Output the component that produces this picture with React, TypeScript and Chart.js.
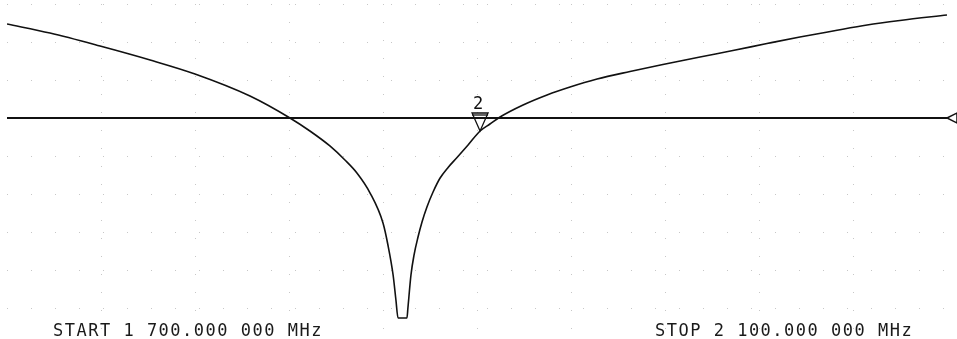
import React, { useEffect, useRef } from "react";
import { Chart, registerables } from "chart.js";

Chart.register(...registerables);

// Frequency sweep (MHz) and measured trace (dB)
const freqMHz = [
  1700.0, 1718.3, 1739.6, 1760.9, 1780.0, 1803.4, 1820.4, 1828.9, 1837.4, 1843.8,
  1848.9, 1854.5, 1860.0, 1862.1, 1864.3, 1865.5, 1866.4, 1870.2, 1870.6, 1871.9,
  1873.2, 1874.9, 1876.6, 1878.7, 1881.3, 1884.3, 1887.7, 1891.5, 1896.2, 1901.3,
  1905.5, 1909.8, 1919.6, 1929.8, 1939.6, 1951.1, 1965.1, 1979.1, 1994.9, 2008.9,
  2023.4, 2037.4, 2051.5, 2066.0, 2080.0, 2100.0,
];
const traceDb = [
  -2.63, -3.82, -5.53, -7.37, -9.21, -12.11, -15.0, -16.71, -18.68, -20.53,
  -22.24, -24.87, -28.82, -31.71, -35.66, -38.95, -41.32, -41.32, -40.0, -35.66,
  -33.03, -30.66, -28.68, -26.71, -24.74, -22.9, -21.5, -20.2, -18.55, -16.71,
  -15.79, -14.87, -13.29, -11.97, -10.92, -9.87, -8.88, -7.96, -6.97, -6.12,
  -5.2, -4.34, -3.55, -2.76, -2.17, -1.45,
];

const startMHz = 1700;
const stopMHz = 2100;
const xDivisions = 10;
const yGridDb = [0, -5, -10, -15, -20, -25, -30, -35, -40];
const refLevelDb = -15;
const markerLabel = "2";
const markerFreq = 1901.3;
const markerDb = -16.71;
const startLabel = "START 1 700.000 000 MHz";
const stopLabel = "STOP 2 100.000 000 MHz";

const overlayPlugin = {
  id: "analyzerOverlay",
  beforeDatasetsDraw(chart: any) {
    const { ctx, chartArea, scales } = chart;
    const xs = scales.x;
    const ys = scales.y;
    ctx.save();
    ctx.strokeStyle = "rgba(0,0,0,0.22)";
    ctx.lineWidth = 1;
    ctx.setLineDash([1, 17]);
    for (let i = 1; i < xDivisions; i++) {
      const f = startMHz + ((stopMHz - startMHz) * i) / xDivisions;
      const px = Math.round(xs.getPixelForValue(f)) + 0.5;
      ctx.beginPath();
      ctx.moveTo(px, chartArea.top);
      ctx.lineTo(px, chartArea.bottom);
      ctx.stroke();
    }
    ctx.setLineDash([1, 23]);
    for (const v of yGridDb) {
      if (v === refLevelDb) continue;
      const py = Math.round(ys.getPixelForValue(v)) + 0.5;
      ctx.beginPath();
      ctx.moveTo(chartArea.left, py);
      ctx.lineTo(chartArea.right, py);
      ctx.stroke();
    }
    ctx.restore();
  },
  afterDraw(chart: any) {
    const { ctx, chartArea, scales } = chart;
    const xs = scales.x;
    const ys = scales.y;
    ctx.save();
    // reference level arrow at right end
    const ry = ys.getPixelForValue(refLevelDb);
    const rx = xs.getPixelForValue(stopMHz);
    ctx.strokeStyle = "#111";
    ctx.lineWidth = 1.5;
    ctx.beginPath();
    ctx.moveTo(rx, ry);
    ctx.lineTo(rx + 10, ry - 5);
    ctx.lineTo(rx + 10, ry + 5);
    ctx.closePath();
    ctx.stroke();

    // marker triangle
    const mx = xs.getPixelForValue(markerFreq);
    const my = ys.getPixelForValue(markerDb);
    ctx.lineWidth = 1.3;
    ctx.beginPath();
    ctx.moveTo(mx, my);
    ctx.lineTo(mx - 8, my - 18);
    ctx.lineTo(mx + 8, my - 18);
    ctx.closePath();
    ctx.stroke();
    ctx.beginPath();
    ctx.moveTo(mx - 8, my - 16);
    ctx.lineTo(mx + 8, my - 16);
    ctx.stroke();
    ctx.fillStyle = "#111";
    ctx.font = '17px "DejaVu Sans Mono"';
    ctx.textAlign = "center";
    ctx.textBaseline = "alphabetic";
    ctx.fillText(markerLabel, mx - 2, my - 22);

    // start / stop annotations
    ctx.textAlign = "left";
    ctx.font = '17px "DejaVu Sans Mono"';
    (ctx as any).letterSpacing = "1.5px";
    ctx.fillStyle = "#1a1a1a";
    ctx.fillText(startLabel, chartArea.left + 46, 336);
    ctx.fillText(stopLabel, chartArea.left + 648, 336);
    ctx.restore();
  },
};

export default function App() {
  const canvasRef = useRef<HTMLCanvasElement | null>(null);

  useEffect(() => {
    if (!canvasRef.current) return;
    const chart = new Chart(canvasRef.current, {
      type: "line",
      data: {
        datasets: [
          {
            label: "Trace",
            data: freqMHz.map((f, i) => ({ x: f, y: traceDb[i] })),
            borderColor: "#111",
            borderWidth: 1.6,
            pointRadius: 0,
            cubicInterpolationMode: "monotone",
            fill: false,
          },
          {
            label: "Reference",
            data: [
              { x: startMHz, y: refLevelDb },
              { x: stopMHz, y: refLevelDb },
            ],
            borderColor: "#111",
            borderWidth: 2.2,
            pointRadius: 0,
            fill: false,
          },
        ],
      },
      options: {
        responsive: false,
        devicePixelRatio: 1,
        animation: false,
        layout: { padding: { left: 7, right: 10, top: 4, bottom: 0 } },
        plugins: { legend: { display: false }, tooltip: { enabled: false } },
        scales: {
          x: { type: "linear", min: startMHz, max: stopMHz, display: false },
          y: { type: "linear", min: -44.08, max: 0, display: false },
        },
      },
      plugins: [overlayPlugin],
    });
    return () => chart.destroy();
  }, []);

  return (
    <div style={{ position: "fixed", left: 0, top: 0, width: 957, height: 339, background: "#fff" }}>
      <canvas ref={canvasRef} width={957} height={339} style={{ display: "block" }} />
    </div>
  );
}
